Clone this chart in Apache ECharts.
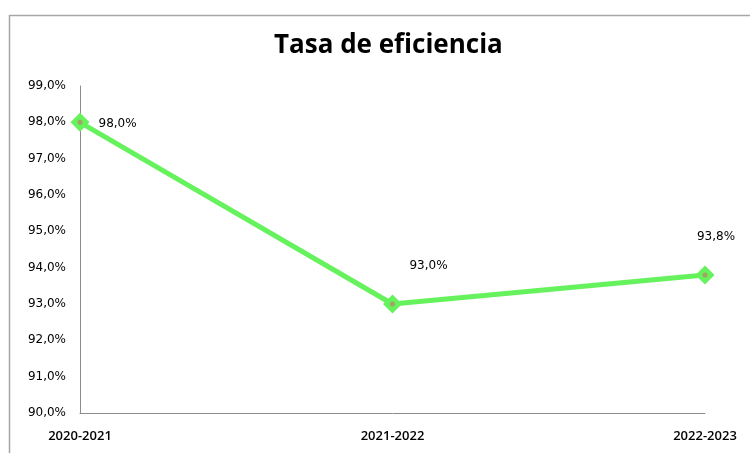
<!DOCTYPE html>
<html>
<head>
<meta charset="utf-8">
<script src="https://cdn.jsdelivr.net/npm/echarts@6/dist/echarts.min.js"></script>
<style>
  html, body { margin: 0; padding: 0; background: #fff; }
  #chart { width: 750px; height: 453px; }
</style>
</head>
<body>
<div id="chart"></div>
<script>
// datos
const cursos = ['2020-2021', '2021-2022', '2022-2023'];
const tasa = [98.0, 93.0, 93.8];
const yMin = 90, yMax = 99, yStep = 1;

const fmt = v => v.toFixed(1).replace('.', ',') + '%';

// posición de cada etiqueta (como en la hoja original)
const etiquetas = [
  { position: 'right', offset: [4, 2] },
  { position: 'top', offset: [36, -18] },
  { position: 'top', offset: [11, -18] }
];

const chart = echarts.init(document.getElementById('chart'));
chart.setOption({
  backgroundColor: '#fff',
  animation: false,
  graphic: [{
    type: 'rect',
    left: 7, top: 13,
    shape: { width: 800, height: 500 },
    style: { fill: 'none', stroke: '#a6a6a6', lineWidth: 1.5 },
    silent: true
  }],
  title: {
    text: 'Tasa de eficiencia',
    left: 269,
    top: 28,
    textStyle: { fontFamily: 'Open Sans', fontWeight: 'bold', fontSize: 26, color: '#000' }
  },
  grid: { left: 80, right: 45, top: 86, bottom: 40, containLabel: false },
  xAxis: {
    type: 'category',
    data: cursos,
    boundaryGap: false,
    axisLine: { lineStyle: { color: '#8c8c8c', width: 1 } },
    axisTick: { show: false },
    axisLabel: { color: '#000', fontFamily: 'Open Sans', fontWeight: 600, fontSize: 13, margin: 17 }
  },
  yAxis: {
    type: 'value',
    min: yMin, max: yMax, interval: yStep,
    axisLine: { show: true, lineStyle: { color: '#8c8c8c', width: 1 } },
    axisTick: { show: false },
    splitLine: { show: false },
    axisLabel: { color: '#000', fontFamily: 'DejaVu Sans', fontSize: 12, margin: 14, formatter: v => fmt(v) }
  },
  series: [{
    type: 'line',
    data: tasa.map((v, i) => ({ value: v, label: etiquetas[i] })),
    symbol: 'diamond',
    symbolSize: 19,
    itemStyle: { color: '#66f25c' },
    lineStyle: { color: '#66f25c', width: 5 },
    label: {
      show: true,
      color: '#000',
      fontFamily: 'DejaVu Sans',
      fontSize: 12,
      formatter: p => fmt(p.value)
    },
    z: 2
  }, {
    type: 'line',
    data: tasa,
    symbol: 'circle',
    symbolSize: 5,
    lineStyle: { width: 0, opacity: 0 },
    itemStyle: { color: '#a3a262' },
    silent: true,
    z: 3
  }]
});
</script>
</body>
</html>
